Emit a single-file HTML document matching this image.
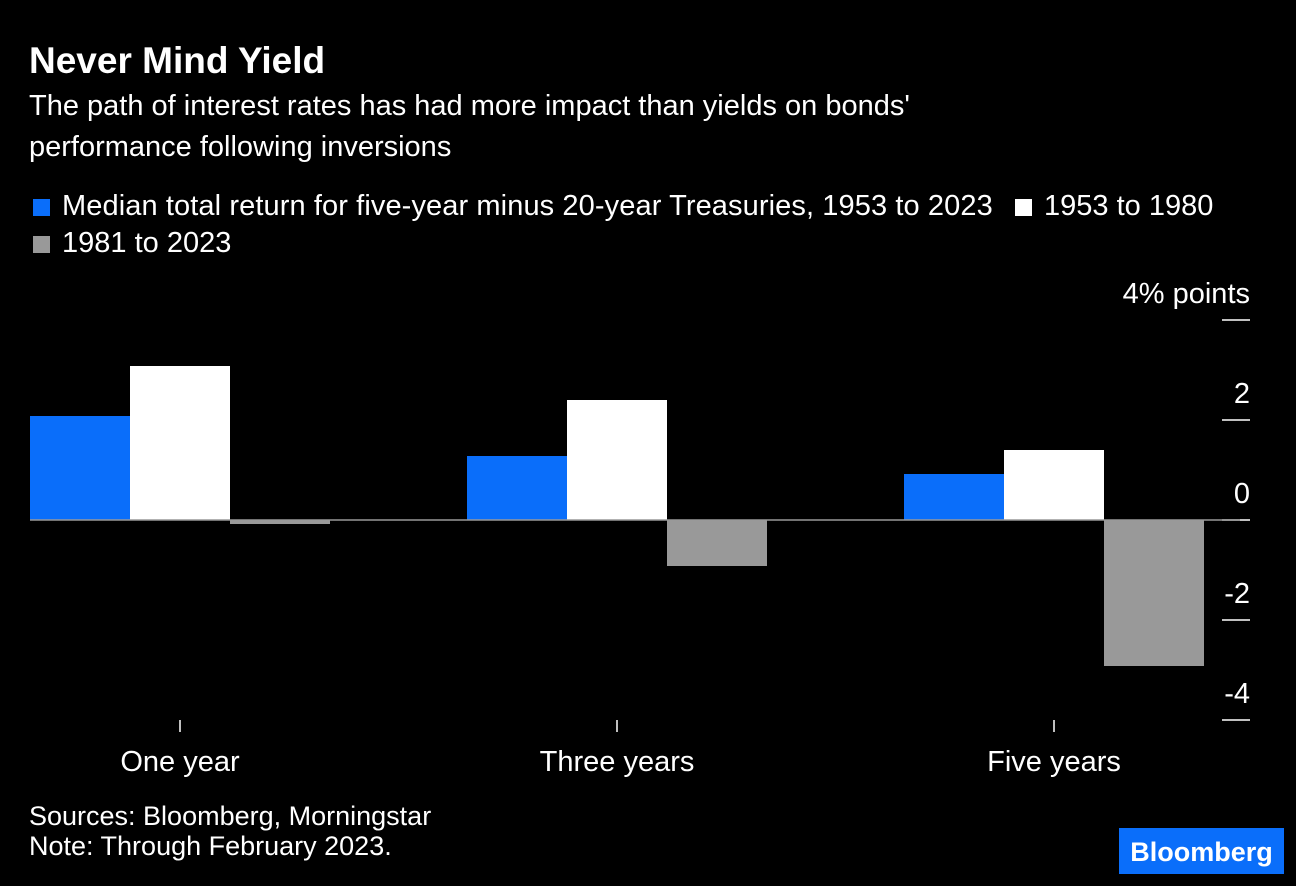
<!DOCTYPE html>
<html><head><meta charset="utf-8"><style>
body{margin:0;background:#000;width:1296px;height:886px;overflow:hidden;font-family:"Liberation Sans",Arial,sans-serif;color:#fff}
.t{position:absolute;white-space:nowrap}
.sq{display:inline-block;width:17px;height:17px;margin-right:12px;vertical-align:-1px}
</style></head><body>
<div class="t" style="left:29px;top:40px;font-size:37px;font-weight:bold">Never Mind Yield</div>
<div class="t" style="left:29px;top:86px;font-size:29px;line-height:41px">The path of interest rates has had more impact than yields on bonds'<br>performance following inversions</div>
<div>
<div class="t" style="left:33px;top:191px;font-size:29px;letter-spacing:0.1px;line-height:30px"><span class="sq" style="background:#0a6efa"></span>Median total return for five-year minus 20-year Treasuries, 1953 to 2023</div>
<div class="t" style="left:1015px;top:191px;font-size:29px;line-height:30px"><span class="sq" style="background:#fff"></span>1953 to 1980</div>
<div class="t" style="left:33px;top:228px;font-size:29px;line-height:30px"><span class="sq" style="background:#999"></span>1981 to 2023</div>
</div>
<svg id="chart" width="1296" height="886" style="position:absolute;left:0;top:0"></svg>
<div class="t" style="left:29px;top:801px;font-size:27px;line-height:30px">Sources: Bloomberg, Morningstar<br>Note: Through February 2023.</div>
<div class="t" style="left:1119px;top:828px;width:165px;height:46px;background:#0a6efa;font-size:27px;font-weight:bold;line-height:48px;text-align:center">Bloomberg</div>
<script>
const categories=["One year","Three years","Five years"];
const seriesAll=[2.08,1.28,0.92];
const series1953=[3.08,2.4,1.4];
const series1981=[-0.08,-0.92,-2.92];
const ticks=[4,2,0,-2,-4];
const tickLabels=["4% points","2","0","-2","-4"];
const colors=["#0a6efa","#ffffff","#999999"];
const svg=document.getElementById('chart');
const NS="http://www.w3.org/2000/svg";
const y=v=>520-v*50;
const gx=i=>30+i*437;
function mk(t,a){const e=document.createElementNS(NS,t);for(const k in a)e.setAttribute(k,a[k]);svg.appendChild(e);return e;}
ticks.forEach((t,i)=>{
 const l=mk('line',{x1:1222,x2:1250,y1:y(t),y2:y(t),stroke:'#fff','stroke-width':1.5});
 
 
 const tx=mk('text',{x:1250,y:y(t)-17,fill:'#fff','font-size':29,'text-anchor':'end','font-family':'Liberation Sans'});
 tx.textContent=tickLabels[i];
 
 
});
[seriesAll,series1953,series1981].forEach((s,si)=>{
 s.forEach((v,i)=>{
  const r=mk('rect',{x:gx(i)+si*100,y:Math.min(y(v),y(0)),width:100,height:Math.abs(y(v)-y(0)),fill:colors[si]});
  
  
 });
});
const z=mk('line',{x1:30,x2:1240,y1:y(0),y2:y(0),stroke:'#999','stroke-width':1.5});


categories.forEach((c,i)=>{
 const cx=gx(i)+150;
 const l=mk('line',{x1:cx,x2:cx,y1:720,y2:732,stroke:'#fff','stroke-width':1.5});
 
 
 const tx=mk('text',{x:cx,y:771,fill:'#fff','font-size':29,'text-anchor':'middle','font-family':'Liberation Sans'});
 tx.textContent=c;
 
 
});
</script>
</body></html>
